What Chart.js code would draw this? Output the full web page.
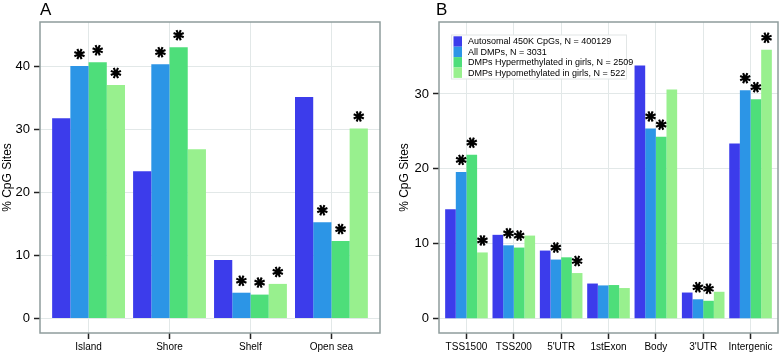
<!DOCTYPE html>
<html>
<head>
<meta charset="utf-8">
<script src="https://cdn.jsdelivr.net/npm/chart.js@4.4.0/dist/chart.umd.min.js"></script>
<style>
  body { margin: 0; background: #fff; }
  #wrap { position: relative; width: 779px; height: 353px; }
  canvas { position: absolute; top: 0; }
</style>
</head>
<body>
<div id="wrap">
  <canvas id="chartA" width="390" height="353" style="left:0"></canvas>
  <canvas id="chartB" width="389" height="353" style="left:390px"></canvas>
</div>
<script>
// Panel A: CpG island context
const categoriesA = ['Island', 'Shore', 'Shelf', 'Open sea'];
const autosomalA = [31.8, 23.4, 9.3, 35.2];
const allDmpA = [40.1, 40.4, 4.1, 15.3];
const hyperA = [40.7, 43.1, 3.8, 12.3];
const hypoA = [37.1, 26.9, 5.5, 30.2];
// significance stars (1 = star above bar)
const sigAutosomalA = [0, 0, 0, 0];
const sigAllDmpA = [1, 1, 1, 1];
const sigHyperA = [1, 1, 1, 1];
const sigHypoA = [1, 0, 1, 1];

// Panel B: gene region
const categoriesB = ['TSS1500', 'TSS200', "5'UTR", '1stExon', 'Body', "3'UTR", 'Intergenic'];
const autosomalB = [14.6, 11.2, 9.1, 4.7, 33.8, 3.5, 23.4];
const allDmpB = [19.6, 9.8, 7.9, 4.45, 25.4, 2.6, 30.5];
const hyperB = [21.9, 9.5, 8.2, 4.5, 24.3, 2.4, 29.3];
const hypoB = [8.85, 11.1, 6.1, 4.1, 30.6, 3.6, 35.9];
const sigAutosomalB = [0, 0, 0, 0, 0, 0, 0];
const sigAllDmpB = [1, 1, 1, 0, 1, 1, 1];
const sigHyperB = [1, 1, 0, 0, 1, 1, 1];
const sigHypoB = [1, 0, 1, 0, 0, 0, 1];

const yTicksA = [0, 10, 20, 30, 40];
const yTicksB = [0, 10, 20, 30];

const seriesLabels = [
  'Autosomal 450K CpGs, N = 400129',
  'All DMPs, N = 3031',
  'DMPs Hypermethylated in girls, N = 2509',
  'DMPs Hypomethylated in girls, N = 522'
];
const seriesColors = ['#3c3ceb', '#2c95e6', '#4ede7a', '#98f08e'];

const FONT = '"Liberation Sans", Arial, Helvetica, sans-serif';
Chart.defaults.font.family = FONT;

function drawStar(ctx, x, y) {
  const r = 5.5;
  ctx.beginPath();
  for (let k = 0; k < 4; k++) {
    const a = k * Math.PI / 4 + Math.PI / 8;
    ctx.moveTo(x - r * Math.cos(a), y - r * Math.sin(a));
    ctx.lineTo(x + r * Math.cos(a), y + r * Math.sin(a));
  }
  ctx.stroke();
}

// border, stars, panel letter and (optional) legend
function makeDecor(letter, letterX, legend) {
  return {
    id: 'decor' + letter,
    afterDatasetsDraw(chart) {
      const { ctx, chartArea } = chart;
      ctx.save();
      ctx.strokeStyle = '#000';
      ctx.lineWidth = 2.1;
      chart.data.datasets.forEach((ds, i) => {
        const meta = chart.getDatasetMeta(i);
        meta.data.forEach((bar, j) => {
          if (ds.sig[j]) drawStar(ctx, bar.x, bar.y - 12);
        });
      });
      ctx.strokeStyle = '#8f9c9c';
      ctx.lineWidth = 1.5;
      ctx.strokeRect(chartArea.left, chartArea.top, chartArea.right - chartArea.left, chartArea.bottom - chartArea.top);
      ctx.fillStyle = '#000';
      ctx.font = '17px ' + FONT;
      ctx.textAlign = 'left';
      ctx.textBaseline = 'alphabetic';
      ctx.fillText(letter, letterX, 15);
      if (legend) {
        ctx.fillStyle = 'rgba(255,255,255,0.9)';
        ctx.fillRect(61.5, 35, 175, 44);
        ctx.strokeStyle = '#e2e6e6';
        ctx.lineWidth = 1;
        ctx.strokeRect(61.5, 35, 175, 44);
        ctx.font = '9px ' + FONT;
        ctx.textBaseline = 'middle';
        chart.data.datasets.forEach((ds, i) => {
          const top = 36.3 + i * 10.4;
          ctx.fillStyle = ds.backgroundColor;
          ctx.fillRect(63.5, top, 8.5, 10.4);
          ctx.fillStyle = '#000';
          ctx.fillText(ds.label, 78, top + 5.6);
        });
      }
      ctx.restore();
    }
  };
}

function makePanel(canvasId, categories, series, sigs, yTicks, yMin, yMax, xPad, yWidth, rightPad, titlePad, letter, letterX, legend) {
  const datasets = series.map((values, i) => ({
    label: seriesLabels[i],
    data: values.map((v, j) => ({ x: j, y: v })),
    sig: sigs[i],
    backgroundColor: seriesColors[i],
    borderWidth: 0,
    barPercentage: 1,
    categoryPercentage: 0.9
  }));
  const grid = { color: '#e2e8e8', tickColor: '#222', tickLength: 6, tickWidth: 1.5, offset: false };
  return new Chart(document.getElementById(canvasId), {
    type: 'bar',
    data: { datasets: datasets },
    options: {
      responsive: false,
      animation: false,
      layout: { padding: { top: 22, right: rightPad, left: 0, bottom: 0 } },
      plugins: { legend: { display: false }, tooltip: { enabled: false } },
      scales: {
        x: {
          type: 'linear',
          min: -xPad,
          max: categories.length - 1 + xPad,
          offset: false,
          afterFit(scale) { scale.height = 20; },
          afterBuildTicks(scale) { scale.ticks = categories.map((c, i) => ({ value: i })); },
          ticks: {
            autoSkip: false, maxRotation: 0, color: '#000', padding: 2,
            font: { size: 10 },
            callback: (v) => categories[v]
          },
          grid: grid,
          border: { display: false }
        },
        y: {
          min: yMin,
          max: yMax,
          afterFit(scale) { scale.width = yWidth; },
          afterBuildTicks(scale) { scale.ticks = yTicks.map((t) => ({ value: t })); },
          ticks: { color: '#000', padding: 4, font: { size: 13 } },
          grid: grid,
          border: { display: false },
          title: {
            display: true, text: '% CpG Sites', color: '#000',
            font: { size: 12 }, padding: { top: titlePad, bottom: 0 }
          }
        }
      }
    },
    plugins: [makeDecor(letter, letterX, legend)]
  });
}

makePanel('chartA', categoriesA,
  [autosomalA, allDmpA, hyperA, hypoA],
  [sigAutosomalA, sigAllDmpA, sigHyperA, sigHypoA],
  yTicksA, -2.3, 47.1, 0.6, 40, 10, 0, 'A', 40, false);

makePanel('chartB', categoriesB,
  [autosomalB, allDmpB, hyperB, hypoB],
  [sigAutosomalB, sigAllDmpB, sigHyperB, sigHypoB],
  yTicksB, -1.9, 39.6, 0.58, 49, 1, 7, 'B', 46, true);
</script>
</body>
</html>
